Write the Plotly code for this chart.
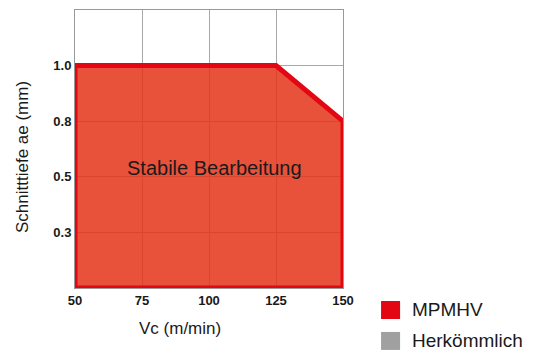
import plotly.graph_objects as go

vc = [50, 50, 125, 150, 150, 50]
ae = [0, 1.0, 1.0, 0.75, 0, 0]
x_ticks = [50, 75, 100, 125, 150]
y_ticks = [0.25, 0.5, 0.75, 1.0]
y_labels = ["0.3", "0.5", "0.8", "1.0"]
series_names = ["MPMHV", "Herkömmlich"]
series_colors = ["#E30613", "#A0A0A0"]
label_text = "Stabile Bearbeitung"
label_pos = (102, 0.54)
x_title = "Vc (m/min)"
y_title = "Schnitttiefe ae (mm)"

FONT = "Liberation Sans"
TXT = "#1a1a1a"

fig = go.Figure()
fig.add_trace(go.Scatter(
    x=vc, y=ae, mode="lines", fill="toself",
    fillcolor="rgba(228,50,23,0.85)",
    line=dict(color=series_colors[0], width=5),
    name=series_names[0], showlegend=False, cliponaxis=False,
))
fig.add_annotation(x=label_pos[0], y=label_pos[1], text=label_text, showarrow=False,
                   font=dict(size=20, color=TXT, family=FONT))

# axis titles
fig.add_annotation(xref="paper", yref="paper", x=0.392, y=-0.144, text=x_title,
                   showarrow=False, xanchor="center", yanchor="middle",
                   font=dict(size=17, color=TXT, family=FONT))
fig.add_annotation(xref="paper", yref="paper", x=-0.198, y=0.471, text=y_title,
                   showarrow=False, xanchor="center", yanchor="middle", textangle=-90,
                   font=dict(size=17, color=TXT, family=FONT))

# legend drawn in paper coordinates
leg_top = [-0.0468, -0.158]
for nm, col, yt in zip(series_names, series_colors, leg_top):
    fig.add_shape(type="rect", xref="paper", yref="paper",
                  x0=1.142, x1=1.213, y0=yt - 0.0647, y1=yt, fillcolor=col, line_width=0)
    fig.add_annotation(xref="paper", yref="paper", x=1.25, y=yt - 0.032, text=nm,
                       showarrow=False, xanchor="left", yanchor="middle",
                       font=dict(size=19, color=TXT, family=FONT))

fig.update_layout(
    width=537, height=343,
    margin=dict(l=67, r=202, t=2, b=63),
    plot_bgcolor="white", paper_bgcolor="white",
    font=dict(family=FONT, color=TXT),
    showlegend=False,
    xaxis=dict(range=[50, 150], tickvals=x_ticks, showgrid=True, gridcolor="#a8a8a8",
               gridwidth=1, showline=True, linecolor="#999", mirror=True, zeroline=False,
               ticks="", tickfont=dict(size=13, weight="bold", color=TXT), automargin=False),
    yaxis=dict(range=[0, 1.25], tickvals=y_ticks, ticktext=y_labels, showgrid=True,
               gridcolor="#a8a8a8", gridwidth=1, showline=True, linecolor="#999", mirror=True,
               zeroline=False, ticks="", tickfont=dict(size=13, weight="bold", color=TXT),
               automargin=False),
)
fig.write_html("out.html")
